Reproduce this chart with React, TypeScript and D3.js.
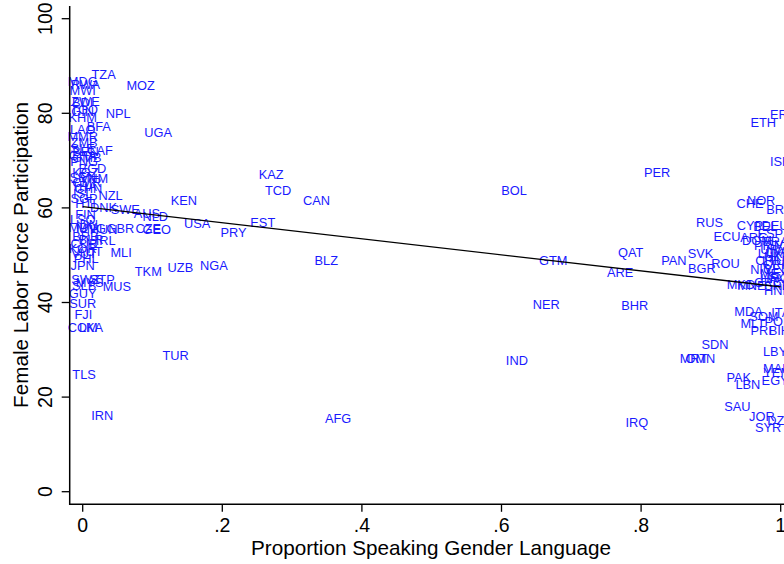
import React from "react";
import * as d3 from "d3";

// Country ISO codes, proportion speaking gender language, female labor force participation
const codes = [
  "TZA","MDG","RWA","MWI","ZWE","BDI","TGO","GIN","KHM","BFA","LAO","MMR","ZMB","SLE","BEN","CAF","GHA","GMB","PNG","BGD",
  "KGZ","SEN","VNM","CMR","THA","CHN","ISL","NZL","SGP","HTI","DNK","SWE","AUS","NLD","FIN","LSO","IDN","MDV","MNG","HUN",
  "GBR","CZE","GEO","BRB","BLR","IRL","CUB","KOR","AUT","VUT","PHL","MLI","JPN","SWZ","STP","MYS","SLB","MUS","GUY","SUR",
  "FJI","COM","LKA","TLS","IRN",
  "MOZ","NPL","UGA","KEN","USA","PRY","EST","KAZ","TCD","CAN","TKM","UZB","NGA","BLZ","TUR","AFG","BOL","PER","GTM","NER",
  "IND","QAT","ARE","BHR","IRQ","PAN","SVK","BGR","ROU","RUS","ECU","MRT","OMN","SDN",
  "ETH","ERI","ISR","CHE","NOR","BRA","CYP","BEL","DEU","ARG","DOM","ESP","FRA","PRT","SVN","URY","LVA","LUX","UKR","LTU",
  "CHL","CRI","VEN","NIC","MEX","SLV","HRV","MKD","MNE","GRC","SRB","HND","MDA","ITA","SOM","MLT","POL","PRI","BIH","LBY",
  "MAR","YEM","EGY","PAK","LBN","SAU","JOR","DZA","SYR"
];

const prop = [
  0.030,0.000,0.004,0.000,0.004,0.000,0.002,0.000,0.000,0.023,0.000,0.000,0.002,0.000,0.004,0.025,0.000,0.006,0.002,0.014,
  0.004,0.000,0.016,0.006,0.002,0.008,0.000,0.040,0.002,0.004,0.030,0.061,0.092,0.104,0.004,0.000,0.006,0.000,0.012,0.030,
  0.054,0.094,0.106,0.004,0.012,0.033,0.002,0.000,0.010,0.002,0.005,0.055,0.000,0.004,0.028,0.010,0.002,0.049,0.000,0.000,
  0.001,0.000,0.012,0.002,0.028,
  0.083,0.051,0.108,0.145,0.164,0.216,0.258,0.270,0.280,0.335,0.094,0.140,0.188,0.349,0.133,0.366,0.618,0.823,0.674,0.664,
  0.622,0.785,0.770,0.791,0.794,0.847,0.885,0.887,0.921,0.898,0.923,0.875,0.885,0.906,
  0.975,1.000,1.000,0.956,0.972,0.998,0.956,0.978,0.992,0.962,0.966,0.985,0.993,0.980,0.998,0.990,0.995,0.985,0.995,0.990,
  0.982,0.990,0.995,0.972,0.990,0.998,0.990,0.943,0.958,0.982,0.995,0.996,0.954,1.000,0.976,0.960,0.995,0.972,0.998,0.992,
  0.995,0.995,0.992,0.940,0.953,0.938,0.973,0.999,0.982
];

const flfp = [
  88.3,86.8,86.2,84.8,82.6,82.3,80.9,80.3,79.2,77.2,76.5,75.2,73.8,72.6,72.0,72.2,71.2,70.6,69.9,68.3,
  67.6,66.4,66.2,65.4,64.6,64.1,63.0,62.6,62.0,61.0,60.2,59.7,58.9,58.3,58.6,57.6,56.6,55.8,55.6,55.4,
  55.6,55.7,55.5,54.0,53.4,53.1,52.4,51.4,50.9,50.3,49.4,50.5,47.9,44.9,44.8,44.2,43.7,43.5,42.0,39.9,
  37.4,34.8,34.8,24.9,16.1,
  86.0,79.9,76.0,61.5,56.8,54.9,57.0,67.1,63.8,61.5,46.6,47.4,47.9,48.8,28.8,15.6,63.8,67.6,48.8,39.7,
  27.8,50.6,46.3,39.3,14.7,48.8,50.4,47.2,48.3,56.9,53.9,28.2,28.2,31.2,
  78.0,79.8,69.8,61.0,61.5,59.6,56.4,56.0,56.2,53.8,53.2,54.6,53.0,52.0,52.3,51.2,50.8,50.3,49.8,49.0,
  48.8,48.0,47.3,46.9,46.2,45.5,45.0,43.8,43.6,44.2,43.6,42.6,38.1,38.0,37.1,35.6,36.1,34.2,34.0,29.7,
  26.1,25.2,23.5,24.2,22.6,18.1,15.9,15.0,13.6
];

// Linear fit: flfp = fitIntercept + fitSlope * prop
const fitIntercept = 60.25;
const fitSlope = -16.95;

const xTicks = [0, 0.2, 0.4, 0.6, 0.8, 1];
const xTickLabels = ["0", ".2", ".4", ".6", ".8", "1"];
const yTicks = [0, 20, 40, 60, 80, 100];

const xTitle = "Proportion Speaking Gender Language";
const yTitle = "Female Labor Force Participation";

const FONT = "'Liberation Sans', Arial, Helvetica, sans-serif";
const LABEL_COLOR = "#1a1aff";

export default function App() {
  const W = 784;
  const H = 564;
  const x = d3.scaleLinear().domain([0, 1]).range([82.7, 780.7]);
  const y = d3.scaleLinear().domain([0, 100]).range([491.7, 18.7]);

  const plotLeft = 69.7;
  const plotBottom = 504.3;
  const plotTop = 6;
  const plotRight = 794;

  const line = d3
    .line<number>()
    .x((d) => x(d))
    .y((d) => y(fitIntercept + fitSlope * d));

  return (
    <svg
      width={W}
      height={H}
      style={{ position: "fixed", left: 0, top: 0, background: "#fff" }}
      fontFamily={FONT}
    >
      <rect x={0} y={0} width={W} height={H} fill="#fff" />
      {/* labels */}
      <g fill={LABEL_COLOR} fontSize={12.8} textAnchor="middle">
        {codes.map((c, i) => (
          <text key={c + i} x={x(prop[i])} y={y(flfp[i])} dy="0.36em">
            {c}
          </text>
        ))}
      </g>
      {/* fitted line */}
      <path d={line([0, 1]) || ""} stroke="#000" strokeWidth={1.3} fill="none" />
      {/* axes */}
      <line x1={plotLeft} x2={plotLeft} y1={plotTop} y2={plotBottom + 0.7} stroke="#000" strokeWidth={1.5} />
      <line x1={plotLeft - 0.7} x2={plotRight} y1={plotBottom} y2={plotBottom} stroke="#000" strokeWidth={1.5} />
      {yTicks.map((t) => (
        <g key={"y" + t}>
          <line x1={plotLeft - 8} x2={plotLeft} y1={y(t)} y2={y(t)} stroke="#000" strokeWidth={1.3} />
          <text
            transform={`translate(${51.5},${y(t)}) rotate(-90)`}
            textAnchor="middle"
            fontSize={19.5}
            fill="#000"
          >
            {String(t)}
          </text>
        </g>
      ))}
      {xTicks.map((t, i) => (
        <g key={"x" + t}>
          <line x1={x(t)} x2={x(t)} y1={plotBottom} y2={plotBottom + 7.5} stroke="#000" strokeWidth={1.3} />
          <text x={x(t)} y={532} textAnchor="middle" fontSize={19.5} fill="#000">
            {xTickLabels[i]}
          </text>
        </g>
      ))}
      <text x={431} y={555} textAnchor="middle" fontSize={20.7} fill="#000">
        {xTitle}
      </text>
      <text
        transform={`translate(${28},${255}) rotate(-90)`}
        textAnchor="middle"
        fontSize={20.7}
        fill="#000"
      >
        {yTitle}
      </text>
    </svg>
  );
}
